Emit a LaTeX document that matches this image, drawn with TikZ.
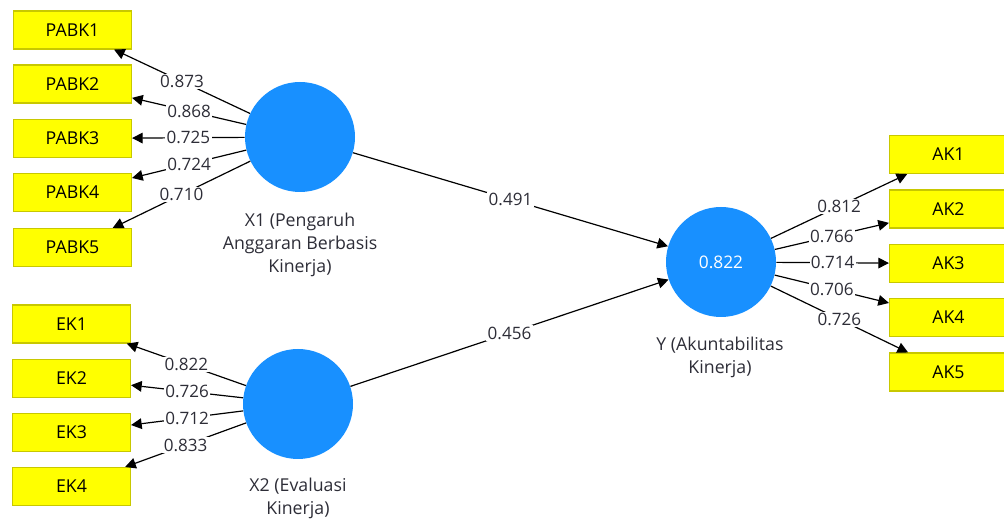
\documentclass[tikz,border=0pt]{standalone}
\usepackage{fontspec}
\setmainfont{Open Sans}
\usetikzlibrary{arrows.meta}
\definecolor{boxfill}{RGB}{255,255,0}
\definecolor{boxline}{RGB}{200,200,0}
\definecolor{lvblue}{RGB}{24,144,255}
\definecolor{txtgray}{RGB}{45,45,55}
\tikzset{
  ind/.style={draw=boxline, line width=0.8pt, fill=boxfill, minimum width=88.5pt, minimum height=28.5pt, inner sep=0pt, font=\fontsize{13.3}{16}\selectfont},
  lv/.style={circle, fill=lvblue, minimum size=82.5pt, inner sep=0pt, font=\fontsize{13}{16}\selectfont\color{white}},
  lvlabel/.style={align=center, text=txtgray, font=\fontsize{13.3}{17.5}\selectfont, inner sep=0pt},
  conn/.style={line width=0.9pt, -{Triangle[length=8pt,width=8pt]}},
  wt/.style={fill=white, inner sep=1pt, text=txtgray, font=\fontsize{12.8}{15}\selectfont, pos=0.5}
}
\begin{document}
\begin{tikzpicture}[x=0.75pt,y=-0.75pt]
\useasboundingbox (0,0) rectangle (1004,523);
\clip (0,0) rectangle (1004,523);
% indicators
\node[ind] (PABK1) at (72.5,30) {PABK1};
\node[ind] (PABK2) at (72.5,84) {PABK2};
\node[ind] (PABK3) at (72.5,138.5) {PABK3};
\node[ind] (PABK4) at (72.5,192.5) {PABK4};
\node[ind] (PABK5) at (72.5,247.5) {PABK5};
\node[ind] (EK1) at (71.5,324) {EK1};
\node[ind] (EK2) at (71.5,378.5) {EK2};
\node[ind] (EK3) at (71.5,432.5) {EK3};
\node[ind] (EK4) at (71.5,486.5) {EK4};
\node[ind] (AK1) at (948.5,154.5) {AK1};
\node[ind] (AK2) at (948.5,209) {AK2};
\node[ind] (AK3) at (948.5,263.5) {AK3};
\node[ind] (AK4) at (948.5,317.5) {AK4};
\node[ind] (AK5) at (948.5,372) {AK5};
% latent variables
\node[lv] (X1) at (300,137) {};
\node[lv] (X2) at (298,404) {};
\node[lv] (Y) at (721,262) {0.822};
\node[lvlabel] (X1l) at (300,245) {X1 (Pengaruh\\Anggaran Berbasis\\Kinerja)};
\node[lvlabel] (X2l) at (298,498.5) {X2 (Evaluasi\\Kinerja)};
\node[lvlabel] (Yl) at (720,357.5) {Y (Akuntabilitas\\Kinerja)};
% outer loadings
\draw[conn] (X1) -- node[wt]{0.873} (PABK1);
\draw[conn] (X1) -- node[wt]{0.868} (PABK2);
\draw[conn] (X1) -- node[wt]{0.725} (PABK3);
\draw[conn] (X1) -- node[wt]{0.724} (PABK4);
\draw[conn] (X1) -- node[wt]{0.710} (PABK5);
\draw[conn] (X2) -- node[wt]{0.822} (EK1);
\draw[conn] (X2) -- node[wt]{0.726} (EK2);
\draw[conn] (X2) -- node[wt]{0.712} (EK3);
\draw[conn] (X2) -- node[wt]{0.833} (EK4);
\draw[conn] (Y) -- node[wt]{0.812} (AK1);
\draw[conn] (Y) -- node[wt]{0.766} (AK2);
\draw[conn] (Y) -- node[wt]{0.714} (AK3);
\draw[conn] (Y) -- node[wt]{0.706} (AK4);
\draw[conn] (Y) -- node[wt]{0.726} (AK5);
% path coefficients
\draw[conn] (X1) -- node[wt]{0.491} (Y);
\draw[conn] (X2) -- node[wt]{0.456} (Y);
\end{tikzpicture}
\end{document}
